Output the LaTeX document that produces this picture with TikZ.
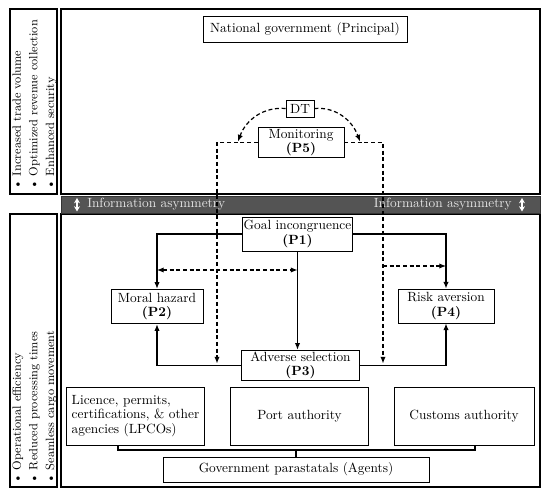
\documentclass[tikz,border=0pt]{standalone}
\usetikzlibrary{arrows.meta}
\tikzset{box/.style = {draw, fill=white, line width=0.6pt, rectangle, align=center, inner sep=1pt, font=\fontsize{10}{11}\selectfont},
         frame/.style = {draw, line width=0.8pt},
         strip/.style = {rotate=90, align=left, inner sep=0pt, font=\fontsize{9}{12.5}\selectfont},
         bartext/.style = {text=white!90!black, inner sep=0pt, font=\fontsize{10}{11}\selectfont},
         link/.style = {-{Latex[length=5pt,width=4pt]}, line width=0.9pt},
         dlink/.style = {link, dash pattern=on 3pt off 2pt}}

\begin{document}
\begin{tikzpicture}[x=0.75pt,y=-0.75pt]
    \useasboundingbox (0,0) rectangle (550,496);
    % frames and the asymmetry bar
    \draw[frame](10,9) rectangle (57,194);
    \draw[frame](61,9) rectangle (540,194);
    \draw[frame](10,214) rectangle (57,487);
    \draw[frame](61,214) rectangle (540,487);
    \filldraw[fill=black!67, draw=black!80](61,196) rectangle (540,213);
    \draw[white, line width=1pt, {Stealth[length=4pt,width=4.5pt]}-{Stealth[length=4pt,width=4.5pt]}](77,198) -- (77,211.5);
    \draw[white, line width=1pt, {Stealth[length=4pt,width=4.5pt]}-{Stealth[length=4pt,width=4.5pt]}](522,198) -- (522,211.5);
    \node[bartext, anchor=west](infol) at (87,204.5){Information asymmetry};
    \node[bartext, anchor=east](infor) at (512,204.5){Information asymmetry};

    \node[strip, anchor=west](goals) at (34.5,190){\textbullet\ Increased trade volume\\ \textbullet\ Optimized revenue collection\\ \textbullet\ Enhanced security};
    \node[strip, anchor=west](gains) at (34.5,484){\textbullet\ Operational efficiency\\ \textbullet\ Reduced processing times\\ \textbullet\ Seamless cargo movement};

    % principal side
    \node[box, minimum width=153pt, minimum height=19pt](gov) at (305,29.5){National government (Principal)};
    \node[box, minimum width=21pt, minimum height=12.75pt](dt) at (300,108.5){DT};
    \node[box, minimum width=64.5pt, minimum height=23pt](p5) at (301,142.5){Monitoring\\\textbf{(P5)}};

    % problems
    \node[box, minimum width=83pt, minimum height=25.5pt](p1) at (297.5,234){Goal incongruence\\\textbf{(P1)}};
    \node[box, minimum width=69pt, minimum height=26pt](p2) at (157,306.5){Moral hazard\\\textbf{(P2)}};
    \node[box, minimum width=72pt, minimum height=25.5pt](p4) at (446,306){Risk aversion\\\textbf{(P4)}};
    \node[box, minimum width=88pt, minimum height=23pt](p3) at (300.5,365.5){Adverse selection\\\textbf{(P3)}};

    % agents
    \node[box, align=left, minimum width=104pt, minimum height=43.5pt](lpco) at (135.5,416){Licence, permits,\\certifications, \& other\\agencies (LPCOs)};
    \node[box, minimum width=104pt, minimum height=43.5pt](port) at (299.5,416){Port authority};
    \node[box, minimum width=105pt, minimum height=43.5pt](cust) at (464,416){Customs authority};
    \node[box, minimum width=199.5pt, minimum height=18.75pt](agents) at (296,469.5){Government parastatals (Agents)};

    \coordinate(dl) at (238,141.5);
    \coordinate(dr) at (360,141.5);
    \coordinate(cl) at (217,363.5);
    \coordinate(cr) at (383,363.5);
    \coordinate(hl) at (157,270);
    \coordinate(hr) at (297.5,270);
    \coordinate(rl) at (383,266);
    \coordinate(rr) at (446,266);
    \coordinate(bl) at (118,445);
    \coordinate(bm) at (296,450);
    \coordinate(br) at (475,445);

    \draw[link](p1.west) -| (p2.north);
    \draw[link](p1.east) -| (p4.north);
    \draw[link](p1.south) -- (p1.south |- p3.north);
    \draw[link](p3.west) -| (p2.south);
    \draw[link](p3.east) -| (p4.south);

    \draw[dlink](dt.west) to[out=175,in=70] (dl);
    \draw[dlink](dt.east) to[out=5,in=110] (dr);
    \draw[dlink](p5.west) -| (cl);
    \draw[dlink](p5.east) -| (cr);
    \draw[dlink, {Latex[length=5pt,width=4pt]}-{Latex[length=5pt,width=4pt]}](hl) -- (hr);
    \draw[dlink](rl) -- (rr);

    \draw[line width=0.9pt](bl) -- (bl |- bm) -- (br |- bm) -- (br);
    \draw[line width=0.9pt](agents.north) -- (bm);
\end{tikzpicture}
\end{document}
